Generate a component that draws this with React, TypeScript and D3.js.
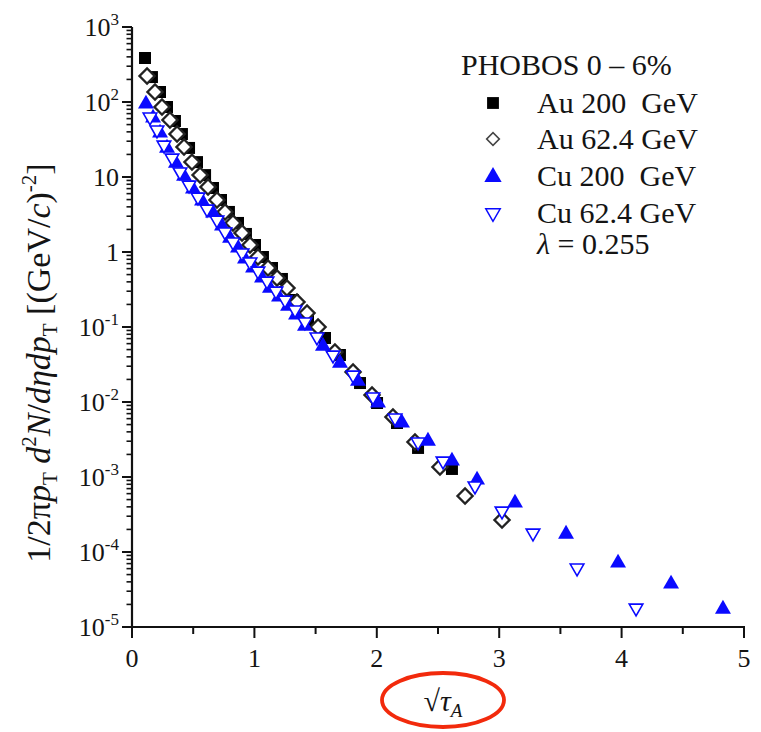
import React from 'react';
import * as d3 from 'd3';

// ---- Data ----
const auHighX = [0.106, 0.163, 0.229, 0.286, 0.351, 0.408, 0.466, 0.531, 0.597, 0.662, 0.727, 0.792, 0.866, 0.931, 1.005, 1.07, 1.144, 1.225, 1.315, 1.438, 1.577, 1.699, 1.863, 2.002, 2.165, 2.337, 2.614];
const auHighY = [386, 215, 136, 85.8, 55.8, 37.4, 24.4, 15.8, 10.6, 7.13, 4.94, 3.42, 2.44, 1.74, 1.24, 0.858, 0.612, 0.437, 0.229, 0.124, 0.0713, 0.0423, 0.0179, 0.0097, 0.00525, 0.00244, 0.00128];

const auLowX = [0.123, 0.188, 0.245, 0.31, 0.368, 0.425, 0.49, 0.556, 0.621, 0.694, 0.76, 0.825, 0.899, 0.964, 1.029, 1.111, 1.185, 1.266, 1.348, 1.43, 1.52, 1.658, 1.806, 1.961, 2.132, 2.312, 2.516, 2.721, 3.023];
const auLowY = [222, 136, 85.8, 57.5, 37.4, 25.1, 15.8, 10.6, 7.36, 4.94, 3.42, 2.44, 1.79, 1.24, 0.858, 0.612, 0.45, 0.331, 0.215, 0.154, 0.1, 0.0464, 0.0251, 0.0124, 0.00631, 0.00293, 0.00136, 0.000558, 0.000267];

const cuHighX = [0.114, 0.172, 0.229, 0.286, 0.359, 0.425, 0.498, 0.572, 0.662, 0.735, 0.801, 0.866, 0.923, 0.989, 1.062, 1.127, 1.201, 1.275, 1.34, 1.413, 1.56, 1.699, 1.846, 2.01, 2.206, 2.418, 2.614, 2.819, 3.129, 3.546, 3.971, 4.404, 4.828];
const cuHighY = [97, 63.1, 39.8, 25.1, 15.8, 10.6, 7.13, 4.94, 3.42, 2.29, 1.58, 1.17, 0.832, 0.631, 0.464, 0.341, 0.259, 0.196, 0.149, 0.106, 0.0575, 0.0341, 0.0196, 0.01, 0.00541, 0.00311, 0.00169, 0.00094, 0.000464, 0.000179, 0.0000736, 0.0000386, 0.0000179];

const cuLowX = [0.147, 0.204, 0.261, 0.327, 0.392, 0.466, 0.539, 0.613, 0.694, 0.76, 0.825, 0.899, 0.964, 1.029, 1.103, 1.176, 1.25, 1.332, 1.413, 1.511, 1.642, 1.806, 1.969, 2.149, 2.337, 2.541, 2.802, 3.023, 3.276, 3.636, 4.118];
const cuLowY = [63.1, 42.4, 26.7, 17.9, 11.7, 7.82, 5.41, 3.74, 2.67, 1.85, 1.36, 0.97, 0.736, 0.558, 0.41, 0.302, 0.229, 0.169, 0.117, 0.0736, 0.0423, 0.0229, 0.0117, 0.00612, 0.00293, 0.00163, 0.00076, 0.000352, 0.000179, 0.0000612, 0.0000179];

const xMajorTicks = [0, 1, 2, 3, 4, 5];
const xMinorTicks = [0.5, 1.5, 2.5, 3.5, 4.5];
const yDecadeExps = [-5, -4, -3, -2, -1, 0, 1, 2, 3];
const yTickBase = ['10', '10', '10', '10', '10', '1', '10', '10', '10'];
const yTickSup = ['-5', '-4', '-3', '-2', '-1', '', '', '2', '3'];
const legendTitle = 'PHOBOS 0 \u2013 6%';
const legendLabels = ['Au 200  GeV', 'Au 62.4 GeV', 'Cu 200  GeV', 'Cu 62.4 GeV'];
const lambdaValue = '0.255';

// ---- Layout ----
const W = 761;
const H = 732;
const X0 = 132, X1 = 744, Y0 = 627, Y1 = 27;
const FONT = "'Liberation Serif', 'Times New Roman', Times, serif";
const TXT = '#141414';
const BLUE = '#0a0aff';

const x = d3.scaleLinear().domain([0, 5]).range([X0, X1]);
const y = d3.scaleLog().domain([1e-5, 1e3]).range([Y0, Y1]);

const squarePath = d3.symbol(d3.symbolSquare, 144)()!;
const diamondPath = d3.symbol(d3.symbolSquare, 115)()!;
const triPath = d3.symbol(d3.symbolTriangle, 110)()!;
const triOpenPath = d3.symbol(d3.symbolTriangle, 80)()!;

const legSquare = d3.symbol(d3.symbolSquare, 140)()!;
const legDiamond = d3.symbol(d3.symbolSquare, 80)()!;
const legTri = d3.symbol(d3.symbolTriangle, 130)()!;
const legTriOpen = d3.symbol(d3.symbolTriangle, 90)()!;

function Square({ cx, cy, d }: { cx: number; cy: number; d: string }) {
  return <path d={d} transform={`translate(${cx},${cy})`} fill="#000" />;
}
function Diamond({ cx, cy, d, sw }: { cx: number; cy: number; d: string; sw: number }) {
  return <path d={d} transform={`translate(${cx},${cy}) rotate(45)`} fill="#fff" stroke="#222" strokeWidth={sw} />;
}
function Tri({ cx, cy, d }: { cx: number; cy: number; d: string }) {
  return <path d={d} transform={`translate(${cx},${cy + 1})`} fill={BLUE} />;
}
function TriDown({ cx, cy, d }: { cx: number; cy: number; d: string }) {
  return <path d={d} transform={`translate(${cx},${cy}) rotate(180)`} fill="#fff" stroke={BLUE} strokeWidth={1.6} />;
}

export default function App() {
  const minorY: number[] = [];
  for (let e = -5; e < 3; e++) {
    for (let m = 2; m <= 9; m++) minorY.push(m * Math.pow(10, e));
  }
  const legRowsY = [103, 139, 176, 213];

  return (
    <svg width={W} height={H} style={{ position: 'absolute', left: 0, top: 0, background: '#fff', fontFamily: FONT }}>
      <rect x={0} y={0} width={W} height={H} fill="#fff" />

      {/* data */}
      <g>
        {auHighX.map((v, i) => <Square key={'s' + i} cx={x(v)} cy={y(auHighY[i])} d={squarePath} />)}
        {auLowX.map((v, i) => <Diamond key={'d' + i} cx={x(v)} cy={y(auLowY[i])} d={diamondPath} sw={2.3} />)}
        {cuHighX.map((v, i) => <Tri key={'t' + i} cx={x(v)} cy={y(cuHighY[i])} d={triPath} />)}
        {cuLowX.map((v, i) => <TriDown key={'u' + i} cx={x(v)} cy={y(cuLowY[i])} d={triOpenPath} />)}
      </g>

      {/* axes */}
      <g stroke="#111" fill="none">
        <line x1={X0} y1={Y1} x2={X0} y2={Y0} strokeWidth={2.2} />
        <line x1={X0 - 10} y1={Y0} x2={X1 + 1} y2={Y0} strokeWidth={2.2} />
        {yDecadeExps.map((e) => (
          <line key={'ym' + e} x1={X0 - 10} x2={X0} y1={y(Math.pow(10, e))} y2={y(Math.pow(10, e))} strokeWidth={2} />
        ))}
        {minorY.map((v, i) => (
          <line key={'yn' + i} x1={X0 - 5.5} x2={X0} y1={y(v)} y2={y(v)} strokeWidth={1.6} />
        ))}
        {xMajorTicks.map((t) => (
          <line key={'xm' + t} x1={x(t)} x2={x(t)} y1={Y0} y2={Y0 + 11} strokeWidth={2} />
        ))}
        {xMinorTicks.map((t) => (
          <line key={'xn' + t} x1={x(t)} x2={x(t)} y1={Y0} y2={Y0 + 7} strokeWidth={2} />
        ))}
      </g>

      {/* tick labels */}
      <g fill={TXT} fontSize={26}>
        {xMajorTicks.map((t) => (
          <text key={'xl' + t} x={x(t)} y={Y0 + 40} textAnchor="middle">{t}</text>
        ))}
        {yDecadeExps.map((e, i) => (
          <text key={'yl' + e} x={119} y={y(Math.pow(10, e)) + 9} textAnchor="end">
            {yTickBase[i]}
            {yTickSup[i] !== '' && (
              <tspan fontSize={17} dy={-11}>{yTickSup[i]}</tspan>
            )}
          </text>
        ))}
      </g>

      {/* y-axis title */}
      <text transform="translate(50,363) rotate(-90)" textAnchor="middle" fontSize={34} fill={TXT}>
        <tspan>1/2π</tspan>
        <tspan fontStyle="italic">p</tspan>
        <tspan fontSize={21} dy={7}>T</tspan>
        <tspan dy={-7}> </tspan>
        <tspan fontStyle="italic">d</tspan>
        <tspan fontSize={21} dy={-14}>2</tspan>
        <tspan fontStyle="italic" dy={14}>N</tspan>
        <tspan>/</tspan>
        <tspan fontStyle="italic">dηdp</tspan>
        <tspan fontSize={21} dy={7}>T</tspan>
        <tspan dy={-7}> [(GeV/</tspan>
        <tspan fontStyle="italic">c</tspan>
        <tspan>)</tspan>
        <tspan fontSize={21} dy={-14}>-2</tspan>
        <tspan dy={14}>]</tspan>
      </text>

      {/* x-axis title with red ellipse */}
      <text x={443} y={711} textAnchor="middle" fontSize={30} fill={TXT}>
        <tspan>√</tspan>
        <tspan fontStyle="italic">τ</tspan>
        <tspan fontStyle="italic" fontSize={19} dy={6}>A</tspan>
      </text>
      <ellipse cx={443} cy={700} rx={61} ry={27} fill="none" stroke="#f22a0c" strokeWidth={3.8} />

      {/* legend */}
      <g fill={TXT} fontSize={30}>
        <text x={461} y={75}>{legendTitle}</text>
        <Square cx={493} cy={legRowsY[0]} d={legSquare} />
        <path d={legDiamond} transform={`translate(493,${legRowsY[1]}) rotate(45)`} fill="#fff" stroke="#444" strokeWidth={1.6} />
        <path d={legTri} transform={`translate(493,${legRowsY[2] + 1})`} fill={BLUE} />
        <path d={legTriOpen} transform={`translate(493,${legRowsY[3]}) rotate(180)`} fill="#fff" stroke={BLUE} strokeWidth={1.5} />
        {legendLabels.map((l, i) => (
          <text key={'lg' + i} x={537} y={legRowsY[i] + 10} style={{ whiteSpace: 'pre' }}>{l}</text>
        ))}
        <text x={537} y={254}>
          <tspan fontStyle="italic">λ</tspan>
          <tspan> = {lambdaValue}</tspan>
        </text>
      </g>
    </svg>
  );
}
